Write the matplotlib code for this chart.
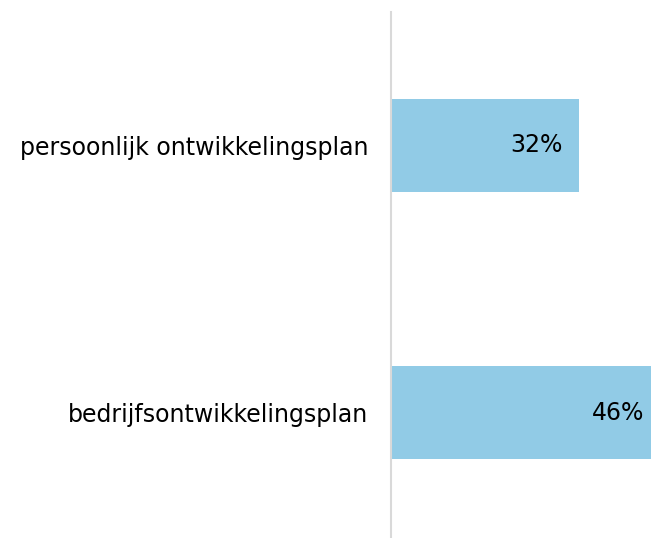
import matplotlib
matplotlib.use('Agg')
from matplotlib import pyplot as plt

categories = ['persoonlijk ontwikkelingsplan', 'bedrijfsontwikkelingsplan']
values = [32, 46]
value_labels = ['32%', '46%']

bar_color = '#91CBE6'
axis_color = '#D9D9D9'

fig = plt.figure(figsize=(6.51, 5.38), dpi=100)
# axes runs past the right edge, the long bar gets cut off like in the original
ax = fig.add_axes([391 / 651, -8 / 538, 270 / 651, 534 / 538])

ypos = list(range(len(categories)))
bars = ax.barh(ypos, values, height=0.35, color=bar_color)

ax.set_xlim(0, 46)
ax.set_ylim(1.5, -0.5)
ax.set_yticks(ypos)
ax.set_yticklabels(categories, fontsize=17)
ax.tick_params(axis='y', length=0, pad=16.5)
ax.set_xticks([])

for s in ['top', 'right', 'bottom']:
  ax.spines[s].set_visible(False)
ax.spines['left'].set_color(axis_color)
ax.spines['left'].set_linewidth(1.5)

for b, lab in zip(bars, value_labels):
  ax.annotate(lab, (b.get_width(), b.get_y() + b.get_height() / 2),
              xytext=(-12, 0), textcoords='offset points',
              ha='right', va='center', fontsize=17, color='black',
              annotation_clip=False)

fig.savefig('out.png', dpi=100)
